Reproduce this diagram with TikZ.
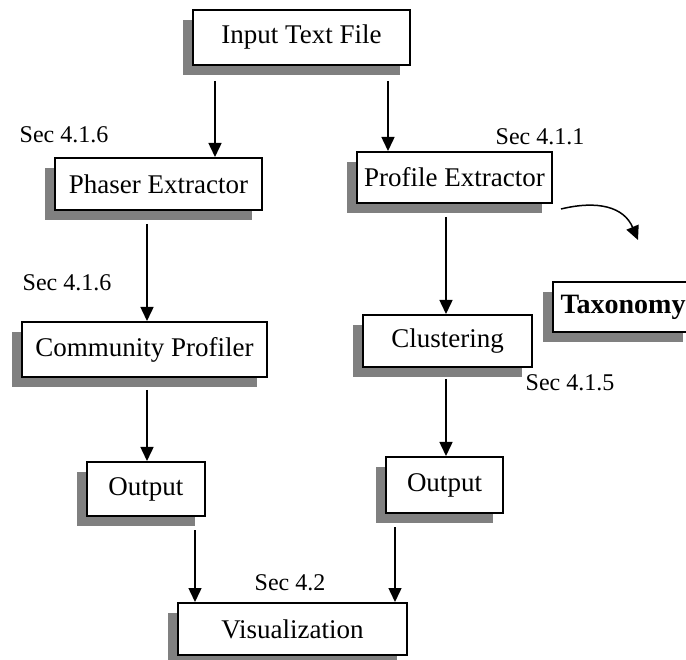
\documentclass[tikz,border=0pt]{standalone}
\usepackage{fontspec}
\setmainfont{Liberation Serif}
\usetikzlibrary{shadows,arrows.meta}
\begin{document}
\begin{tikzpicture}[x=1pt,y=-1pt,
  box/.style={draw=black, line width=2pt, fill=white, inner sep=0pt,
    font=\fontsize{27}{30}\selectfont,
    drop shadow={shadow xshift=-10pt, shadow yshift=-10pt, fill=black!50, opacity=1}},
  seclabel/.style={inner sep=0pt, font=\fontsize{24}{28}\selectfont},
  arr/.style={line width=1.5pt, -{Triangle[length=14pt,width=13pt]}}]
\useasboundingbox (0,0) rectangle (686,660);
\clip (0,0) rectangle (686,660);
% boxes
\node[box, minimum width=217pt, minimum height=55pt] (input) at (301.5,37.5) {Input Text File};
\node[box, minimum width=207pt, minimum height=52pt] (phaser) at (158.5,184) {Phaser Extractor};
\node[box, minimum width=195pt, minimum height=51pt] (profile) at (454.5,177.5) {Profile Extractor};
\node[box, minimum width=140pt, minimum height=50pt] (taxo) at (623,307) {\fontsize{28}{30}\selectfont\bfseries Taxonomy};
\node[box, minimum width=169pt, minimum height=52pt] (clust) at (447.5,341) {Clustering};
\node[box, minimum width=245pt, minimum height=55pt] (comm) at (144.5,349.5) {Community Profiler};
\node[box, minimum width=118pt, minimum height=54pt] (outL) at (146,489) {Output};
\node[box, minimum width=117pt, minimum height=56pt] (outR) at (444.5,485) {Output};
\node[box, minimum width=229pt, minimum height=52pt] (vis) at (292.5,629) {Visualization};
% labels
\node[seclabel] (s1) at (64,135) {Sec 4.1.6};
\node[seclabel] (s2) at (540,137) {Sec 4.1.1};
\node[seclabel] (s3) at (67,283) {Sec 4.1.6};
\node[seclabel] (s4) at (570,383) {Sec 4.1.5};
\node[seclabel] (s5) at (290,583) {Sec 4.2};
% arrow columns
\coordinate (c1) at (215,0);
\coordinate (c2) at (388,0);
\coordinate (c3) at (147,0);
\coordinate (c4) at (446,0);
\coordinate (c5) at (195,0);
\coordinate (c6) at (395,0);
% arrows
\draw[arr] (input.south -| c1) ++(0,15) -- (phaser.north -| c1);
\draw[arr] (input.south -| c2) ++(0,15) -- (profile.north -| c2);
\draw[arr] (phaser.south -| c3) ++(0,13) -- (comm.north -| c3);
\draw[arr] (profile.south -| c4) ++(0,13) -- (clust.north -| c4);
\draw[arr] (comm.south -| c3) ++(0,12) -- (outL.north -| c3);
\draw[arr] (clust.south -| c4) ++(0,11) -- (outR.north -| c4);
\draw[arr] (outL.south -| c5) ++(0,13) -- (vis.north -| c5);
\draw[arr] (outR.south -| c6) ++(0,13) -- (vis.north -| c6);
% curved arrow
\coordinate (cs) at (561,209);
\coordinate (ce) at (638,240);
\draw[arr] (cs) .. controls (598,200) and (624,207) .. (ce);
\end{tikzpicture}
\end{document}
